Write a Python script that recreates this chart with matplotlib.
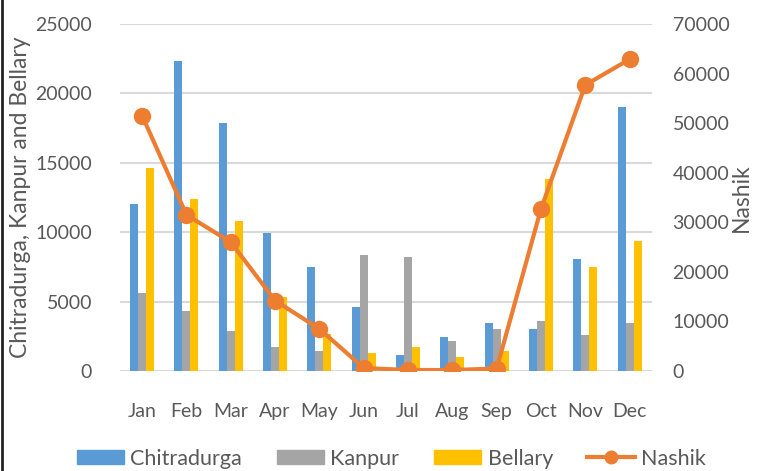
import matplotlib.pyplot as plt
import numpy as np
from matplotlib.lines import Line2D
from matplotlib.patches import Patch

plt.rcParams['font.family'] = ['Lato', 'DejaVu Sans']

months = ['Jan', 'Feb', 'Mar', 'Apr', 'May', 'Jun', 'Jul', 'Aug', 'Sep', 'Oct', 'Nov', 'Dec']
chitradurga = [12000, 22300, 17900, 9950, 7500, 4600, 1150, 2450, 3450, 3050, 8050, 19000]
kanpur = [5600, 4300, 2900, 1750, 1450, 8350, 8200, 2150, 3050, 3600, 2600, 3450]
bellary = [14600, 12400, 10800, 5350, 2700, 1300, 1750, 1000, 1450, 13850, 7500, 9350]
nashik = [51500, 31500, 26000, 14200, 8500, 600, 200, 200, 500, 32700, 57700, 62900]

c_blue = '#5B9BD5'
c_gray = '#A5A5A5'
c_gold = '#FFC000'
c_orange = '#ED7D31'
txt = '#595959'

fig = plt.figure(figsize=(7.57, 4.71), dpi=100)
ax = fig.add_axes([0.1585, 0.2123, 0.7025, 0.7367])
x = np.arange(len(months))
w = 0.18
ax.bar(x - w, chitradurga, w, color=c_blue, zorder=2)
ax.bar(x, kanpur, w, color=c_gray, zorder=2)
ax.bar(x + w, bellary, w, color=c_gold, zorder=2)
ax.set_xlim(-0.5, 11.5)
ax.set_ylim(0, 25000)
ax.set_yticks(range(0, 25001, 5000))
ax.yaxis.grid(True, color='#d9d9d9', linewidth=1.5, zorder=0)
ax.set_axisbelow(True)
for s in ax.spines.values():
    s.set_visible(False)
ax.tick_params(length=0, labelsize=14, labelcolor=txt)
ax.tick_params(axis='y', pad=20)
ax.tick_params(axis='x', pad=23)
ax.set_xticks(x)
ax.set_xticklabels(months)
ax.set_ylabel('Chitradurga, Kanpur and Bellary', fontsize=16.5, color=txt, labelpad=3)

ax2 = ax.twinx()
ax2.plot(x, nashik, color=c_orange, linewidth=3, marker='o', markersize=11.5, zorder=3)
ax2.set_ylim(0, 70000)
ax2.set_yticks(range(0, 70001, 10000))
for s in ax2.spines.values():
    s.set_visible(False)
ax2.tick_params(length=0, labelsize=14, labelcolor=txt, pad=15)
ax2.set_ylabel('Nashik', fontsize=16.5, color=txt, labelpad=1)

handles = [Patch(color=c_blue), Patch(color=c_gray), Patch(color=c_gold),
           Line2D([0], [0], color=c_orange, linewidth=3, marker='o', markersize=9)]
fig.legend(handles, ['Chitradurga', 'Kanpur', 'Bellary', 'Nashik'], ncol=4,
           loc='center', bbox_to_anchor=(0.517, 0.026), frameon=False,
           fontsize=15.5, labelcolor=txt, handlelength=2.2, handleheight=0.65,
           handletextpad=0.3, columnspacing=1.6)

fig.add_artist(Line2D([0.002, 0.002], [0.0, 1.0], color='#222222', linewidth=2,
                      transform=fig.transFigure))

fig.savefig('out.png', dpi=100)
